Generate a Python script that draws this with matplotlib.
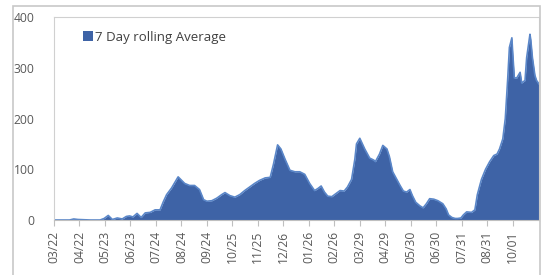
import matplotlib.pyplot as plt
import matplotlib.dates as mdates
from matplotlib.patches import Rectangle
import numpy as np
import datetime as dt

start = dt.date(2020, 3, 22)

# day offsets from 03/22 and the 7 day rolling average
days = [0, 19, 24, 29, 44, 56, 61, 66, 71, 77, 83, 88, 92, 96, 101, 106, 111,
        117, 123, 129, 133, 137, 143, 151, 159, 165, 171, 177, 182, 186, 192,
        198, 204, 208, 214, 220, 226, 232, 238, 244, 250, 257, 263, 267, 272,
        276, 281, 287, 293, 299, 305, 311, 317, 321, 325, 329, 333, 338, 343,
        348, 353, 357, 362, 366, 368, 372, 378, 384, 389, 391, 396, 400, 405,
        408, 412, 417, 421, 425, 429, 433, 436, 440, 445, 449, 453, 457, 462,
        467, 473, 477, 480, 484, 488, 491, 495, 498, 502, 508, 512, 515, 520,
        525, 530, 535, 539, 542, 546, 549, 552, 554, 557, 558, 560, 563, 567,
        569, 573, 575, 579, 580, 582, 585, 587, 590]
avg = [0, 0, 2, 1, 0, 0, 3, 9, 1, 4, 2, 7, 8, 6, 13, 5, 14,
       15, 20, 20, 36, 50, 63, 85, 72, 68, 68, 60, 40, 37, 38,
       43, 50, 54, 48, 45, 50, 58, 65, 72, 78, 83, 84, 110, 148,
       140, 120, 98, 95, 95, 90, 72, 58, 62, 67, 55, 47, 46, 52,
       58, 57, 65, 80, 120, 150, 161, 140, 122, 118, 115, 130, 147, 140,
       125, 95, 80, 68, 57, 55, 60, 48, 35, 28, 24, 32, 42, 41,
       38, 32, 22, 10, 5, 3, 3, 4, 10, 16, 15, 20, 50, 80,
       100, 115, 127, 130, 140, 160, 200, 280, 340, 359, 330, 280, 280, 291,
       270, 275, 320, 366, 355, 320, 285, 275, 268]

tick_days = np.arange(0, 559, 31)

dates = [start + dt.timedelta(days=d) for d in days]
ticks = [start + dt.timedelta(days=int(d)) for d in tick_days]

plt.rcParams['font.family'] = ['Open Sans', 'DejaVu Sans']

fig = plt.figure(figsize=(5.43, 2.75), dpi=100)
fig.patches.append(Rectangle((13 / 543, -0.01), 527 / 543, 1 - 6 / 275 + 0.01,
                             transform=fig.transFigure, fill=False,
                             edgecolor='#C8C8C8', linewidth=1.2))
ax = fig.add_axes([54 / 543, 55 / 275, 485 / 543, 203 / 275])

ax.fill_between(dates, avg, 0, color='#3E63A6', linewidth=0,
                label='7 Day rolling Average')
ax.plot(dates, avg, color='#5A86C8', linewidth=1.2)

ax.set_xlim(start, start + dt.timedelta(days=590))
ax.set_ylim(0, 400)
ax.set_yticks([0, 100, 200, 300, 400])
ax.set_xticks(ticks)
ax.xaxis.set_major_formatter(mdates.DateFormatter('%m/%d'))
ax.tick_params(axis='x', rotation=90, labelsize=8.7, colors='#595959',
               length=4, color='#BFBFBF')
ax.tick_params(axis='y', labelsize=8.7, colors='#595959', length=0, pad=14)
for s in ax.spines.values():
    s.set_color('#D0D0D0')
ax.spines['bottom'].set_color('#BFBFBF')

ax.legend(loc='upper left', bbox_to_anchor=(0.035, 0.99), frameon=False,
          fontsize=9.5, handlelength=0.75, handleheight=0.75, handletextpad=0.2,
          labelcolor='#404040')

fig.savefig('out.png', dpi=100)
